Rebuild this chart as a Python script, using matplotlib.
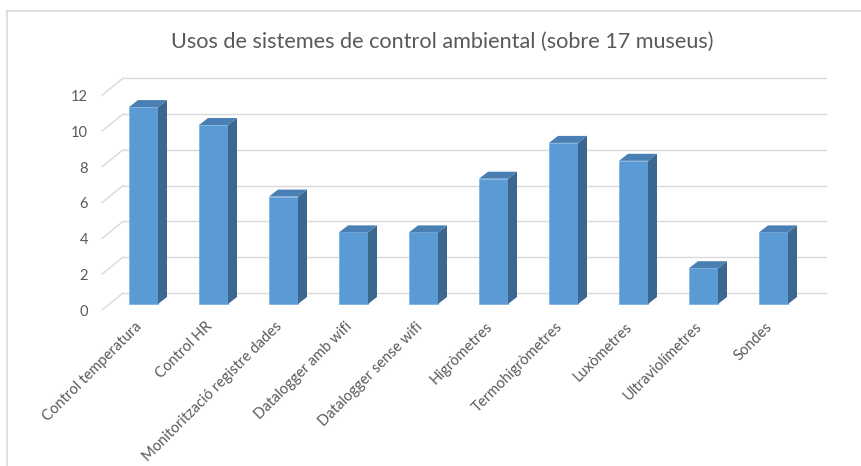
import matplotlib
matplotlib.use("Agg")
import matplotlib.pyplot as plt
from matplotlib.patches import Polygon
from matplotlib.lines import Line2D

categories = ["Control temperatura", "Control HR", "Monitorització registre dades",
              "Datalogger amb wifi", "Datalogger sense wifi", "Higròmetres",
              "Termohigròmetres", "Luxòmetres", "Ultraviolímetres", "Sondes"]
values = [11, 10, 6, 4, 4, 7, 9, 8, 2, 4]
yticks = [0, 2, 4, 6, 8, 10, 12]
title = "Usos de sistemes de control ambiental (sobre 17 museus)"

plt.rcParams['font.family'] = ['Lato', 'DejaVu Sans']

W, H = 862, 466
fig = plt.figure(figsize=(W / 100, H / 100), dpi=100)
ax = fig.add_axes([0, 0, 1, 1])

# pixel mapping helpers (layout only)
x0_px, step_px = 143.5, 70.0
y0_px, unit_px = 304.0, 17.9
ax.set_xlim((0 - x0_px) / step_px, (W - x0_px) / step_px)
ax.set_ylim((y0_px - H) / unit_px, y0_px / unit_px)
ax.axis('off')

grid_c = '#d9d9d9'
text_c = '#595959'
front_c = '#5b9bd5'
side_c = '#3b6790'
top_c = '#4a7fb4'

# depth geometry (in data units)
fx = (102 - x0_px) / step_px
bx = (123 - x0_px) / step_px
rx = (826 - x0_px) / step_px
fy = -6 / unit_px
by = 11 / unit_px

for v in yticks:
    ax.plot([fx, bx], [v + fy, v + by], color=grid_c, lw=1.0, zorder=1)
    ax.plot([bx, rx], [v + by, v + by], color=grid_c, lw=1.0, zorder=1)
    ax.text((88 - x0_px) / step_px, v + fy - 0.1, str(v), ha='right', va='center',
            fontsize=10.5, color=text_c)

w = 29 / step_px
dx = 9 / step_px
dy = 7 / unit_px
xs = list(range(len(categories)))
bars = ax.bar(xs, values, width=w, color=front_c, edgecolor='#7fb3e3', linewidth=0.6, zorder=3)
for b, v in zip(bars, values):
    xl = b.get_x()
    xr = xl + b.get_width()
    ax.add_patch(Polygon([(xr, 0), (xr + dx, dy), (xr + dx, v + dy), (xr, v)],
                         closed=True, facecolor=side_c, edgecolor='none', zorder=3))
    ax.add_patch(Polygon([(xl, v), (xl + dx, v + dy), (xr + dx, v + dy), (xr, v)],
                         closed=True, facecolor=top_c, edgecolor='none', zorder=3))

for i, c in enumerate(categories):
    ax.text(i - 0.05, -1.15, c, rotation=45, rotation_mode='anchor', ha='right', va='center',
            fontsize=10.6, color=text_c)

fig.text(442 / W, 1 - 42 / H, title, ha='center', va='center', fontsize=15.6, color=text_c)

# chart area border
fig.add_artist(Line2D([7 / W, 7 / W], [0, 1 - 11 / H], color=grid_c, lw=1.2))
fig.add_artist(Line2D([7 / W, 1], [1 - 11 / H, 1 - 11 / H], color=grid_c, lw=1.2))

fig.savefig('out.png', dpi=100)
